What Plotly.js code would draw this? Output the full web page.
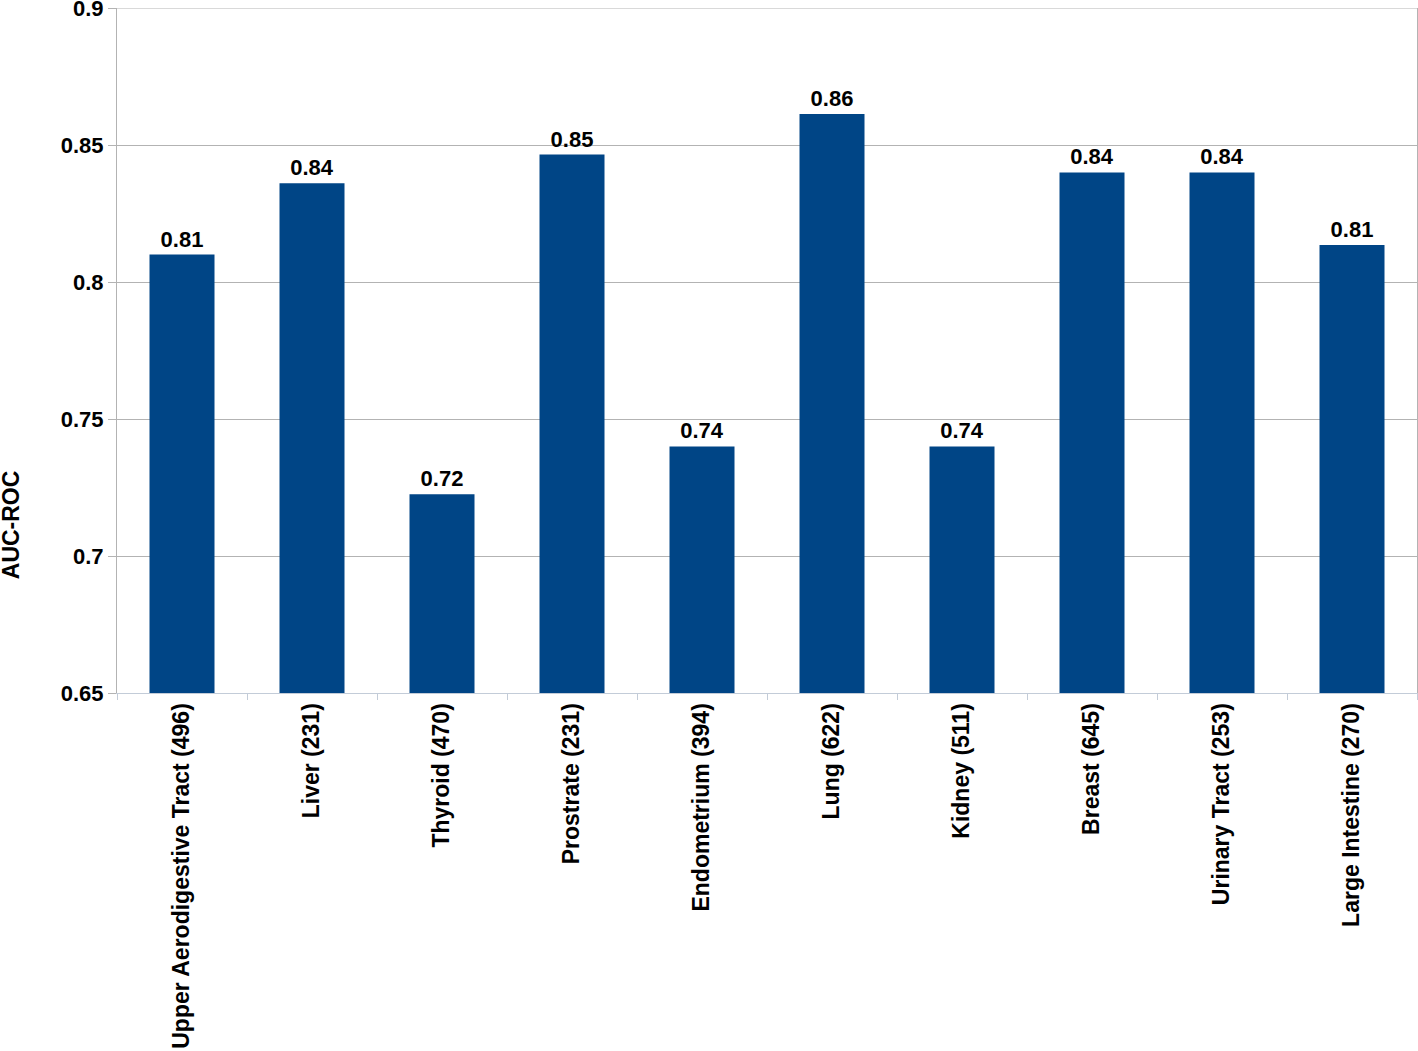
<!DOCTYPE html>
<html>
<head>
<meta charset="utf-8">
<script src="https://cdn.plot.ly/plotly-3.0.1.min.js"></script>
<style>
  html, body { margin: 0; padding: 0; background: #fff; }
  #chart { width: 1418px; height: 1051px; }
</style>
</head>
<body>
<div id="chart"></div>
<script>
// Cancer sites with sample counts, and the AUC-ROC for each
const sites = [
    'Upper Aerodigestive Tract (496)',
    'Liver (231)',
    'Thyroid (470)',
    'Prostrate (231)',
    'Endometrium (394)',
    'Lung (622)',
    'Kidney (511)',
    'Breast (645)',
    'Urinary Tract (253)',
    'Large Intestine (270)'
];
const aucRoc = [ 0.810, 0.836, 0.7225, 0.8465, 0.740, 0.8613, 0.740, 0.840, 0.840, 0.8135 ];

const yTicks = [ 0.65, 0.7, 0.75, 0.8, 0.85, 0.9 ];
const yMin = 0.65, yMax = 0.9;

const family = 'Liberation Sans, Arial, sans-serif';
const font = { family: family, size: 22, color: '#000', weight: 'bold' };
// the rotated texts come out a little longer in the original
const fontRot = { family: family, size: 23, color: '#000', weight: 'bold' };

const data = [
    {
        type: 'bar',
        x: sites,
        y: aucRoc,
        marker: {
            color: '#004586',
            line: { width: 0 }
        },
        texttemplate: '%{y:.2f}',
        textposition: 'outside',
        constraintext: 'none',
        cliponaxis: false,
        textfont: font,
        hoverinfo: 'x+y'
    }
];

const layout = {
    width: 1418,
    height: 1051,
    margin: { l: 117, r: 1, t: 8, b: 358 },
    paper_bgcolor: '#fff',
    plot_bgcolor: '#fff',
    font: font,
    bargap: 0.5,
    showlegend: false,
    xaxis: {
        type: 'category',
        tickangle: -90,
        tickson: 'boundaries',
        ticks: 'outside',
        ticklen: 6,
        tickcolor: '#c3ccd8',
        showline: true,
        linecolor: '#c3ccd8',
        showgrid: false,
        tickfont: fontRot,
        automargin: false
    },
    yaxis: {
        range: [ yMin, yMax ],
        tickvals: yTicks,
        ticks: 'outside',
        ticklen: 8,
        tickcolor: '#b3b3b3',
        showline: true,
        mirror: true,
        linecolor: '#b3b3b3',
        gridcolor: '#b3b3b3',
        zeroline: false,
        tickfont: font,
        ticklabeloverflow: 'allow',
        automargin: false
    },
    // top gridline at the range edge (plotly drops grid lines on the edge)
    shapes: [
        {
            type: 'line',
            xref: 'paper',
            yref: 'y',
            x0: 0, x1: 1,
            y0: yMax, y1: yMax,
            line: { color: '#b3b3b3', width: 1 }
        }
    ],
    // axis title sits at the middle of the whole figure, not the plot
    annotations: [
        {
            text: 'AUC-ROC',
            textangle: -90,
            xref: 'paper',
            yref: 'paper',
            x: -0.0815,
            y: 0.245,
            xanchor: 'center',
            yanchor: 'middle',
            showarrow: false,
            font: fontRot
        }
    ]
};

Plotly.newPlot( 'chart', data, layout, { displayModeBar: false, staticPlot: true } );
</script>
</body>
</html>
